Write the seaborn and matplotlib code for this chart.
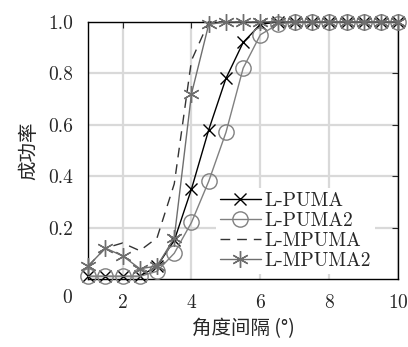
import numpy as np
import pandas as pd
import matplotlib
matplotlib.use("Agg")
import matplotlib.pyplot as plt
import seaborn as sns

# dữ liệu
angle = [1.0, 1.5, 2.0, 2.5, 3.0, 3.5, 4.0, 4.5, 5.0, 5.5, 6.0, 6.5, 7.0, 7.5, 8.0, 8.5, 9.0, 9.5, 10.0]
l_puma = [0.01, 0.01, 0.01, 0.01, 0.05, 0.15, 0.35, 0.58, 0.78, 0.92, 0.99, 1.0, 1.0, 1.0, 1.0, 1.0, 1.0, 1.0, 1.0]
l_puma2 = [0.01, 0.01, 0.01, 0.01, 0.03, 0.10, 0.22, 0.38, 0.57, 0.82, 0.95, 0.99, 1.0, 1.0, 1.0, 1.0, 1.0, 1.0, 1.0]
l_mpuma = [0.05, 0.12, 0.14, 0.11, 0.16, 0.37, 0.85, 1.0, 1.0, 1.0, 1.0, 1.0, 1.0, 1.0, 1.0, 1.0, 1.0, 1.0, 1.0]
l_mpuma2 = [0.05, 0.12, 0.09, 0.04, 0.05, 0.16, 0.72, 0.99, 1.0, 1.0, 1.0, 1.0, 1.0, 1.0, 1.0, 1.0, 1.0, 1.0, 1.0]

x_ticks = [2, 4, 6, 8, 10]
y_ticks = [0.2, 0.4, 0.6, 0.8, 1.0]

sns.set_style("white")
plt.rcParams["font.family"] = ["cmr10", "Noto Sans CJK SC", "DejaVu Serif"]
plt.rcParams["axes.formatter.use_mathtext"] = True
plt.rcParams["mathtext.fontset"] = "cm"

fig = plt.figure(figsize=(4.08, 3.47), dpi=100)
ax = fig.add_axes([0.216, 0.196, 0.76, 0.741])

styles = [
    ("L-PUMA", l_puma, "black", dict(marker="x", markersize=9, linestyle="-")),
    ("L-PUMA2", l_puma2, "#808080", dict(marker="o", markersize=11,
                                         markerfacecolor="none", linestyle="-")),
    ("L-MPUMA", l_mpuma, "#333333", dict(marker=None, linestyle=(0, (7, 5)))),
    ("L-MPUMA2", l_mpuma2, "#6e6e6e", dict(marker=(6, 2, 0), markersize=12,
                                           linestyle="-")),
]

for name, vals, col, kw in styles:
    df = pd.DataFrame({"x": angle, "y": vals})
    sns.lineplot(data=df, x="x", y="y", ax=ax, label=name, linewidth=1.0,
                 color=col, markeredgecolor=col, markeredgewidth=1.0,
                 clip_on=False, zorder=3, **kw)

ax.set_xlim(1, 10)
ax.set_ylim(0, 1)
ax.set_xticks(x_ticks)
ax.set_yticks(y_ticks)
ax.set_yticklabels([f"{v:.1f}" for v in y_ticks])
ax.grid(True, color="#d9d9d9", linewidth=1.6)
ax.set_axisbelow(True)
for s in ax.spines.values():
    s.set_color("black")
    s.set_linewidth(1.0)
ax.tick_params(direction="in", length=4, width=0.8, top=True, right=True,
               labelsize=14, pad=11)

# nhãn "0" ở góc dưới trái
ax.text(0.4, -0.04, "0", transform=ax.get_xaxis_transform(), ha="center",
        va="top", fontsize=14)

ax.set_xlabel("角度间隔 (°)", fontsize=14, family=["Noto Sans CJK SC", "DejaVu Sans"],
              labelpad=4)
ax.set_ylabel("成功率", fontsize=14, family=["Noto Sans CJK SC", "DejaVu Sans"],
              labelpad=6)

leg = ax.legend(loc="lower right", bbox_to_anchor=(0.935, 0.01), frameon=True,
                fontsize=14, handlelength=2.1, handletextpad=0.2,
                labelspacing=0.1, borderpad=0.2, borderaxespad=0.15)
leg.get_frame().set_edgecolor("none")
leg.get_frame().set_facecolor("white")
leg.get_frame().set_alpha(1.0)

fig.savefig("out.png", dpi=100)
